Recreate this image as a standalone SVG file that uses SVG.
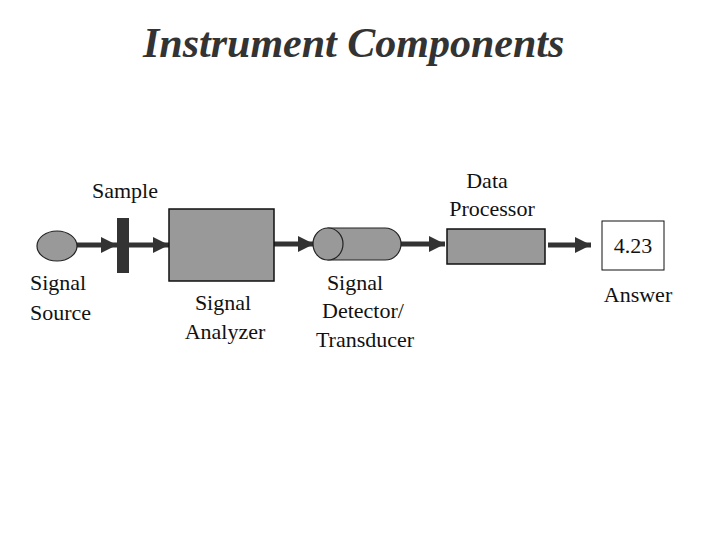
<svg xmlns="http://www.w3.org/2000/svg" width="720" height="540" viewBox="0 0 720 540">
<style>
text{font-family:"Liberation Serif","Times New Roman",serif;font-size:22px;fill:#111}
.title{font-size:42px;font-weight:bold;font-style:italic;fill:#333}
.conn{stroke:#333;stroke-width:5;fill:none}
.box{fill:#999;stroke:#111;stroke-width:1.5}
</style>
<defs>
<marker id="ah" markerUnits="userSpaceOnUse" markerWidth="16" markerHeight="16" refX="16" refY="8" orient="auto">
<path d="M0,0 L16,8 L0,16 Z" fill="#333"/>
</marker>
</defs>
<rect width="720" height="540" fill="#fff"/>
<text class="title" x="143" y="57">Instrument Components</text>
<g id="connectors">
<line class="conn" x1="77" y1="245" x2="117" y2="245" marker-end="url(#ah)"/>
<line class="conn" x1="129" y1="245" x2="169" y2="245" marker-end="url(#ah)"/>
<line class="conn" x1="274" y1="244" x2="314" y2="244" marker-end="url(#ah)"/>
<line class="conn" x1="401" y1="244" x2="445" y2="244" marker-end="url(#ah)"/>
<line class="conn" x1="548" y1="245" x2="591" y2="245" marker-end="url(#ah)"/>
</g>
<g id="source">
<ellipse cx="57" cy="246" rx="20" ry="15" fill="#999" stroke="#222" stroke-width="1.2"/>
<text x="30" y="290">Signal</text>
<text x="30" y="320">Source</text>
</g>
<g id="sample">
<rect x="117" y="218" width="12" height="55" fill="#333"/>
<text x="125" y="198" text-anchor="middle">Sample</text>
</g>
<g id="analyzer">
<rect class="box" x="169" y="209" width="105" height="72"/>
<text x="223" y="310" text-anchor="middle">Signal</text>
<text x="225" y="339" text-anchor="middle">Analyzer</text>
</g>
<g id="detector">
<path d="M328,228 L385,228 A16,16 0 0 1 385,260 L328,260 Z" fill="#999" stroke="#222" stroke-width="1.2"/>
<ellipse cx="328" cy="244" rx="15" ry="16" fill="#999" stroke="#222" stroke-width="1.2"/>
<text x="355" y="290" text-anchor="middle">Signal</text>
<text x="363" y="318" text-anchor="middle">Detector/</text>
<text x="365" y="347" text-anchor="middle">Transducer</text>
</g>
<g id="processor">
<rect class="box" x="447" y="229" width="98" height="35"/>
<text x="487" y="188" text-anchor="middle">Data</text>
<text x="492" y="216" text-anchor="middle">Processor</text>
</g>
<g id="answer">
<rect x="602" y="221" width="62" height="49" fill="#fff" stroke="#111" stroke-width="1"/>
<text x="633" y="253" text-anchor="middle">4.23</text>
<text x="638" y="302" text-anchor="middle">Answer</text>
</g>
</svg>
